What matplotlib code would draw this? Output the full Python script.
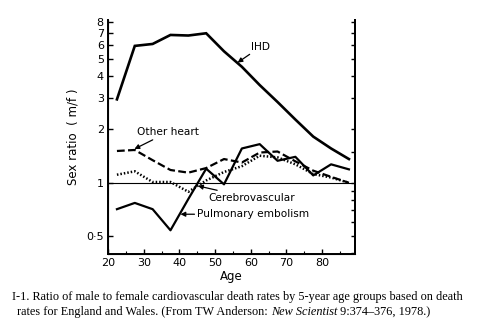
import matplotlib
matplotlib.use("Agg")
import matplotlib.pyplot as plt
from matplotlib.ticker import FixedLocator, FixedFormatter, NullFormatter

ages = [22.5, 27.5, 32.5, 37.5, 42.5, 47.5, 52.5, 57.5, 62.5, 67.5, 72.5, 77.5, 82.5, 87.5]
ihd = [2.95, 5.9, 6.05, 6.8, 6.75, 6.95, 5.5, 4.5, 3.55, 2.85, 2.27, 1.82, 1.56, 1.36]
other_heart = [1.51, 1.53, 1.34, 1.18, 1.14, 1.21, 1.36, 1.30, 1.48, 1.50, 1.32, 1.17, 1.08, 1.00]
cerebro = [1.11, 1.16, 1.01, 1.01, 0.89, 1.03, 1.15, 1.24, 1.42, 1.39, 1.27, 1.12, 1.07, 1.00]
pulmonary = [0.71, 0.77, 0.71, 0.54, 0.81, 1.20, 0.98, 1.56, 1.65, 1.33, 1.40, 1.10, 1.27, 1.19]

y_ticks = [0.5, 1, 2, 3, 4, 5, 6, 7, 8]
y_labels = ["0·5", "1", "2", "3", "4", "5", "6", "7", "8"]
right_ticks = [0.4, 0.5, 0.6, 0.7, 0.8, 0.9, 1, 1.5, 2, 3, 4, 5, 6, 7, 8]
x_ticks = [20, 30, 40, 50, 60, 70, 80]

fig = plt.figure(figsize=(4.91, 3.28), dpi=100)
ax = fig.add_axes([0.22, 0.2256, 0.503, 0.713])

ax.plot(ages, ihd, color="black", lw=1.9, solid_joinstyle="miter")
ax.plot(ages, other_heart, color="black", lw=1.6, ls=(0, (3.5, 1.5)))
ax.plot(ages, cerebro, color="black", lw=1.8, ls=(0, (0.6, 0.8)))
ax.plot(ages, pulmonary, color="black", lw=1.6)
ax.axhline(1, color="black", lw=0.8)

ax.set_yscale("log")
ax.set_xlim(20, 89.2)
ax.set_ylim(0.397, 8.24)

ax.yaxis.set_major_locator(FixedLocator(y_ticks))
ax.yaxis.set_major_formatter(FixedFormatter(y_labels))
ax.yaxis.set_minor_locator(FixedLocator([]))
ax.yaxis.set_minor_formatter(NullFormatter())
ax.set_xticks(x_ticks)
ax.set_xticks([25, 35, 45, 55, 65, 75, 85], minor=True)
ax.tick_params(axis="both", which="major", direction="in", length=3.5, width=1,
               labelsize=8, pad=3)
ax.tick_params(axis="x", which="minor", direction="in", length=2, width=0.8)

ax.spines["top"].set_visible(False)
for s in ["left", "right", "bottom"]:
    ax.spines[s].set_linewidth(1.4)

# ticks on the right spine
ax2 = ax.twinx()
ax2.set_yscale("log")
ax2.set_ylim(ax.get_ylim())
ax2.yaxis.set_major_locator(FixedLocator(right_ticks))
ax2.yaxis.set_major_formatter(NullFormatter())
ax2.yaxis.set_minor_locator(FixedLocator([]))
ax2.tick_params(axis="y", direction="in", length=3, width=1)
ax2.spines["top"].set_visible(False)
ax2.spines["right"].set_linewidth(1.4)

ax.set_ylabel("Sex ratio  ( m/f )", fontsize=8.5, labelpad=5)
ax.set_xlabel("Age", fontsize=8.5, labelpad=1)

arrow = dict(arrowstyle="-|>", color="black", lw=0.9, mutation_scale=7, shrinkA=0, shrinkB=0)
ax.annotate("IHD", xy=(56.3, 4.75), xytext=(60.2, 5.85), fontsize=7.6, va="center",
            arrowprops=arrow)
ax.annotate("Other heart", xy=(27.4, 1.55), xytext=(28.2, 1.93), fontsize=7.6,
            va="center", arrowprops=arrow)
ax.annotate("Cerebrovascular", xy=(45.2, 0.96), xytext=(48.0, 0.82), fontsize=7.6,
            va="center", arrowprops=arrow)
ax.annotate("Pulmonary embolism", xy=(40.3, 0.665), xytext=(45.0, 0.665), fontsize=7.6,
            va="center", arrowprops=arrow)

# caption
cap_font = dict(family="Liberation Serif", fontsize=8.8)
fig.text(0.024, 0.085, "I-1. Ratio of male to female cardiovascular death rates by 5-year age groups based on death",
         **cap_font)
t1 = fig.text(0.035, 0.04, "rates for England and Wales. (From TW Anderson: ", **cap_font)
fig.canvas.draw()
r = fig.canvas.get_renderer()
bb = t1.get_window_extent(r)
x1 = bb.x1 / fig.bbox.width
t2 = fig.text(x1, 0.04, "New Scientist", style="italic", **cap_font)
bb2 = t2.get_window_extent(r)
x2 = bb2.x1 / fig.bbox.width
fig.text(x2, 0.04, " 9:374–376, 1978.)", **cap_font)

fig.savefig("out.png", dpi=100)
